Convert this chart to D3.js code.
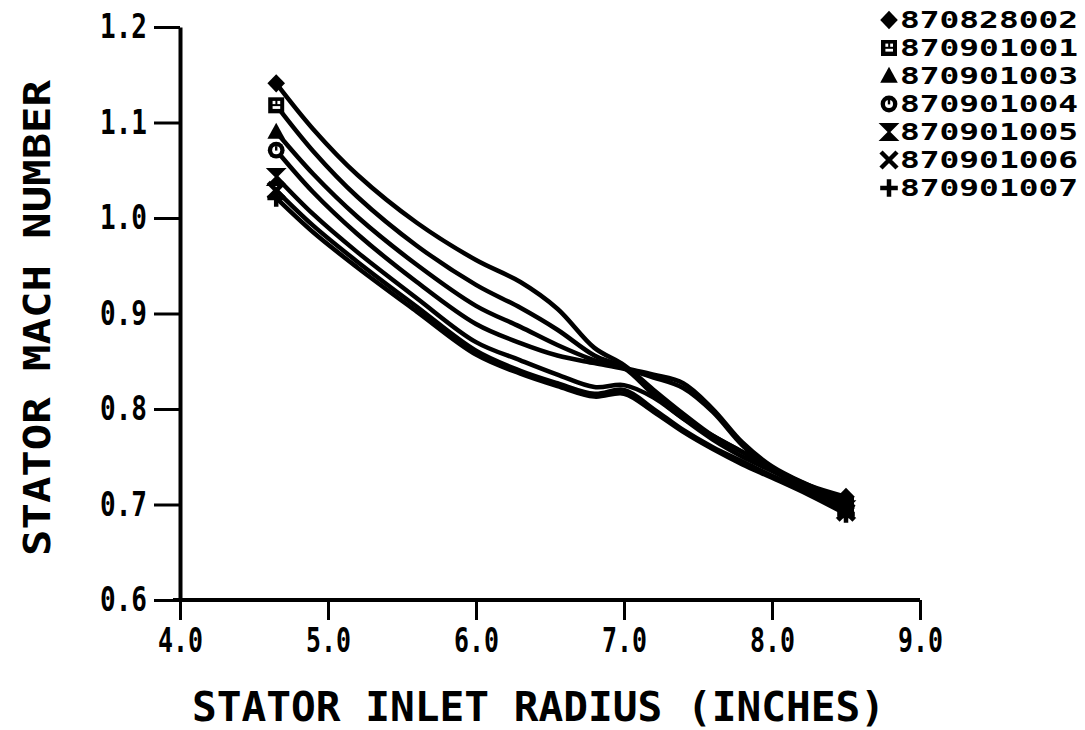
<!DOCTYPE html>
<html>
<head>
<meta charset="utf-8">
<script src="https://cdn.jsdelivr.net/npm/d3@7"></script>
<style>
  html, body { margin: 0; padding: 0; background: #fff; }
  svg { display: block; }
  text { font-family: "DejaVu Sans Mono", "Liberation Mono", monospace; font-weight: bold; fill: #000; }
</style>
</head>
<body>
<svg id="chart" width="1085" height="730"></svg>
<script>
// ---- data ----
const radius = [4.65, 4.9, 5.2, 5.6, 6.0, 6.3, 6.55, 6.8, 7.0, 7.2, 7.4, 7.6, 7.8, 8.0, 8.25, 8.5];
const seriesNames = ["870828002", "870901001", "870901003", "870901004", "870901005", "870901006", "870901007"];
const mach870828002 = [1.141, 1.093, 1.045, 0.995, 0.956, 0.933, 0.905, 0.864, 0.846, 0.820, 0.795, 0.772, 0.755, 0.738, 0.720, 0.708];
const mach870901001 = [1.118, 1.070, 1.022, 0.971, 0.930, 0.906, 0.883, 0.856, 0.843, 0.815, 0.790, 0.768, 0.750, 0.735, 0.715, 0.700];
const mach870901003 = [1.090, 1.046, 1.001, 0.951, 0.908, 0.886, 0.867, 0.851, 0.843, 0.836, 0.827, 0.800, 0.765, 0.740, 0.720, 0.703];
const mach870901004 = [1.071, 1.027, 0.983, 0.933, 0.889, 0.869, 0.856, 0.848, 0.842, 0.833, 0.822, 0.797, 0.762, 0.737, 0.718, 0.698];
const mach870901005 = [1.043, 1.004, 0.964, 0.916, 0.870, 0.851, 0.836, 0.823, 0.825, 0.812, 0.790, 0.772, 0.755, 0.738, 0.718, 0.695];
const mach870901006 = [1.029, 0.992, 0.954, 0.907, 0.861, 0.840, 0.827, 0.816, 0.820, 0.800, 0.778, 0.760, 0.745, 0.730, 0.712, 0.692];
const mach870901007 = [1.021, 0.985, 0.948, 0.902, 0.857, 0.837, 0.824, 0.813, 0.816, 0.797, 0.776, 0.758, 0.742, 0.728, 0.710, 0.690];
const xTicks = [4.0, 5.0, 6.0, 7.0, 8.0, 9.0];
const xTickLabels = ["4.0", "5.0", "6.0", "7.0", "8.0", "9.0"];
const yTicks = [0.6, 0.7, 0.8, 0.9, 1.0, 1.1, 1.2];
const yTickLabels = ["0.6", "0.7", "0.8", "0.9", "1.0", "1.1", "1.2"];
const xTitle = "STATOR INLET RADIUS (INCHES)";
const yTitle = "STATOR MACH NUMBER";

const allMach = [mach870828002, mach870901001, mach870901003, mach870901004, mach870901005, mach870901006, mach870901007];
const markerKinds = ["diamond", "boxsquare", "triangle", "ringcircle", "hourglass", "times", "plus"];

const svg = d3.select("#chart");
const x = d3.scaleLinear().domain([4, 9]).range([180, 920]);
const y = d3.scaleLinear().domain([0.6, 1.2]).range([600, 27]);

// ---- axes ----
const xAxis = d3.axisBottom(x).tickValues(xTicks).tickFormat((d, i) => xTickLabels[i])
  .tickSizeInner(20).tickSizeOuter(0).tickPadding(8);
const gx = svg.append("g").attr("transform", "translate(0,600)").call(xAxis);
gx.select(".domain").attr("stroke", "#000").attr("stroke-width", 4).attr("d", "M173,0H920");
gx.selectAll(".tick line").attr("stroke", "#000").attr("stroke-width", 3);
gx.selectAll(".tick text").attr("font-size", 34).attr("fill", "#000")
  .attr("font-family", '"DejaVu Sans Mono", monospace').attr("font-weight", "bold")
  .attr("textLength", 45).attr("lengthAdjust", "spacingAndGlyphs");

const yAxis = d3.axisLeft(y).tickValues(yTicks).tickFormat((d, i) => yTickLabels[i])
  .tickSizeInner(26).tickSizeOuter(0).tickPadding(7);
const gy = svg.append("g").attr("transform", "translate(180,0)").call(yAxis);
gy.select(".domain").attr("stroke", "#000").attr("stroke-width", 4);
gy.selectAll(".tick line").attr("stroke", "#000").attr("stroke-width", 3);
gy.selectAll(".tick text").attr("font-size", 34).attr("fill", "#000")
  .attr("font-family", '"DejaVu Sans Mono", monospace').attr("font-weight", "bold")
  .attr("textLength", 47).attr("lengthAdjust", "spacingAndGlyphs");

// ---- titles ----
svg.append("text").attr("x", 192).attr("y", 721).attr("font-size", 40)
  .attr("textLength", 693).attr("lengthAdjust", "spacingAndGlyphs").text(xTitle);
svg.append("text").attr("transform", "translate(50,556) rotate(-90)").attr("font-size", 38)
  .attr("textLength", 476).attr("lengthAdjust", "spacingAndGlyphs").text(yTitle);

// ---- markers ----
function drawMarker(g, kind, cx, cy, s) {
  const m = g.append("g").attr("transform", `translate(${cx},${cy})`);
  const h = s / 2;
  switch (kind) {
    case "diamond":
      m.append("path").attr("d", `M0,${-h * 1.15}L${h * 1.1},0L0,${h * 1.15}L${-h * 1.1},0Z`).attr("fill", "#000");
      break;
    case "boxsquare":
      m.append("rect").attr("x", -h).attr("y", -h).attr("width", s).attr("height", s).attr("fill", "#000");
      m.append("rect").attr("x", -h * 0.45).attr("y", -h * 0.55).attr("width", h * 0.35).attr("height", h * 0.4).attr("fill", "#fff");
      m.append("rect").attr("x", h * 0.15).attr("y", -h * 0.55).attr("width", h * 0.35).attr("height", h * 0.4).attr("fill", "#fff");
      m.append("rect").attr("x", -h * 0.45).attr("y", h * 0.1).attr("width", h * 0.95).attr("height", h * 0.35).attr("fill", "#fff");
      break;
    case "triangle":
      m.append("path").attr("d", `M0,${-h * 1.15}L${h * 1.1},${h * 0.85}L${-h * 1.1},${h * 0.85}Z`).attr("fill", "#000");
      break;
    case "ringcircle":
      m.append("circle").attr("r", h * 1.05).attr("fill", "#000");
      m.append("circle").attr("r", h * 0.5).attr("fill", "#fff");
      m.append("rect").attr("x", -h * 0.15).attr("y", -h * 0.5).attr("width", h * 0.3).attr("height", h * 0.55).attr("fill", "#000");
      break;
    case "hourglass":
      m.append("path").attr("d", `M${-h},${-h}L${h},${-h}L${-h},${h}L${h},${h}Z`).attr("fill", "#000").attr("stroke", "#000").attr("stroke-width", 2);
      break;
    case "times":
      m.append("path").attr("d", `M${-h},${-h}L${h},${h}M${h},${-h}L${-h},${h}`).attr("stroke", "#000").attr("stroke-width", 4.5);
      break;
    case "plus":
      m.append("path").attr("d", `M${-h * 1.1},0L${h * 1.1},0M0,${-h * 1.1}L0,${h * 1.1}`).attr("stroke", "#000").attr("stroke-width", 4.5);
      break;
  }
}

// ---- lines ----
const line = d3.line().x((d, i) => x(radius[i])).y(d => y(d)).curve(d3.curveCatmullRom.alpha(0.5));
const plot = svg.append("g");
allMach.forEach((vals) => {
  plot.append("path").attr("d", line(vals)).attr("fill", "none")
    .attr("stroke", "#000").attr("stroke-width", 4.5).attr("stroke-linejoin", "round");
});
allMach.forEach((vals, k) => {
  drawMarker(plot, markerKinds[k], x(radius[0]), y(vals[0]), 16);
  drawMarker(plot, markerKinds[k], x(radius[radius.length - 1]), y(vals[vals.length - 1]), 16);
});

// ---- legend ----
const legend = svg.append("g");
seriesNames.forEach((name, i) => {
  const cy = 20 + i * 28;
  drawMarker(legend, markerKinds[i], 889, cy, 16);
  legend.append("text").attr("x", 900).attr("y", cy).attr("dy", "0.36em").attr("font-size", 23)
    .attr("textLength", 178).attr("lengthAdjust", "spacingAndGlyphs").text(name);
});
</script>
</body>
</html>
